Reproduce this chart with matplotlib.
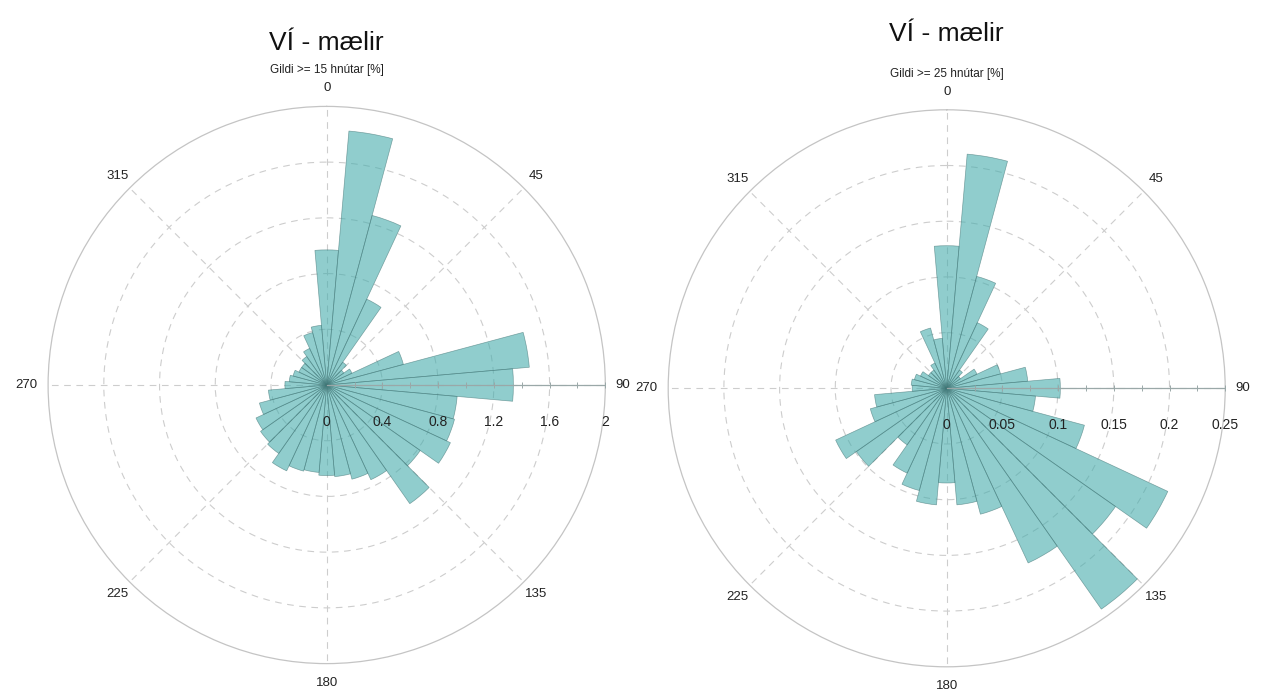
import numpy as np
import matplotlib
matplotlib.use('Agg')
import matplotlib.pyplot as plt
from matplotlib.transforms import offset_copy

# ---- data ----
directions = np.arange(0, 360, 10)  # bin centres, degrees (compass)

left_values = [0.97, 1.83, 1.26, 0.68, 0.20, 0.15, 0.20, 0.57, 1.46, 1.34,
               0.94, 0.95, 0.98, 0.82, 1.04, 0.75, 0.70, 0.66, 0.65, 0.63,
               0.64, 0.68, 0.60, 0.58, 0.56, 0.50, 0.42, 0.30, 0.27, 0.25,
               0.22, 0.22, 0.25, 0.29, 0.39, 0.43]

right_values = [0.128, 0.211, 0.104, 0.065, 0.020, 0.015, 0.030, 0.050, 0.073, 0.102,
                0.080, 0.128, 0.219, 0.185, 0.242, 0.173, 0.117, 0.105, 0.085, 0.105,
                0.095, 0.084, 0.062, 0.099, 0.110, 0.071, 0.065, 0.031, 0.032, 0.030,
                0.026, 0.020, 0.020, 0.025, 0.056, 0.045]

theta_ticks = [0, 45, 90, 135, 180, 225, 270, 315]
left_rticks = [0, 0.4, 0.8, 1.2, 1.6, 2]
left_rlabels = ['0', '0.4', '0.8', '1.2', '1.6', '2']
right_rticks = [0, 0.05, 0.1, 0.15, 0.2, 0.25]
right_rlabels = ['0', '0.05', '0.1', '0.15', '0.2', '0.25']
titles = ['VÍ - mælir', 'VÍ - mælir']
subtitles = ['Gildi >= 15 hnútar [%]', 'Gildi >= 25 hnútar [%]']

plt.rcParams['font.family'] = ['Liberation Sans', 'DejaVu Sans']

W, H = 1264, 695
fig = plt.figure(figsize=(W / 100, H / 100), dpi=100)

FACE = (0.28, 0.68, 0.68)
EDGE = (0.25, 0.45, 0.45)
GRID = '#cdcdcd'
AXLINE = '#9aa8a8'
TXT = '#222222'


def polar_panel(cx, cy, R, values, rticks, rlabels, title, subtitle, title_y, sub_y):
    rect = [(cx - R) / W, (H - cy - R) / H, 2 * R / W, 2 * R / H]
    ax = fig.add_axes(rect, projection='polar')
    ax.set_theta_zero_location('N')
    ax.set_theta_direction(-1)
    rmax = rticks[-1]
    ax.set_ylim(0, rmax)
    ax.set_axisbelow(True)

    ax.bar(np.deg2rad(directions), values, width=np.deg2rad(10), bottom=0,
           color=FACE, alpha=0.6, edgecolor=EDGE, linewidth=0.5, zorder=2)

    ax.set_xticks(np.deg2rad(theta_ticks))
    ax.set_xticklabels([])
    ax.set_yticks(rticks[1:-1])
    ax.set_yticklabels([])
    ax.grid(True, linestyle=(0, (6, 5)), color=GRID, linewidth=0.8)
    ax.spines['polar'].set_color('#c4c4c4')
    ax.spines['polar'].set_linewidth(0.9)

    # angle labels placed just outside the outer circle
    for t in theta_ticks:
        s, c = np.sin(np.deg2rad(t)), np.cos(np.deg2rad(t))
        if abs(s) > 0.9:          # east / west
            gap = 10 if s > 0 else 11
            ha = 'left' if s > 0 else 'right'
            dx, dy, va = gap * np.sign(s), 0, 'center'
        elif abs(c) > 0.9:        # north / south
            dist = 18 if c > 0 else 19
            dx, dy, ha, va = 0, dist * np.sign(c), 'center', 'center'
        else:                     # diagonals
            dist = 17
            dx, dy, ha, va = dist * s, dist * c, 'center', 'center'
        tr = offset_copy(ax.transData, fig=fig, x=dx, y=dy, units='dots')
        ax.text(np.deg2rad(t), rmax, str(t), transform=tr, ha=ha, va=va,
                fontsize=9.5, color=TXT, clip_on=False)

    # solid r-axis line along 90 degrees
    ax.plot([np.pi / 2, np.pi / 2], [0, rmax], color=AXLINE, lw=0.9, zorder=3)
    rt = np.array(rticks, dtype=float)
    marks = np.concatenate([rt[1:], (rt[:-1] + rt[1:]) / 2])
    ax.plot(np.full(len(marks), np.pi / 2), marks, ls='none', marker='|',
            ms=5, mew=0.7, color=AXLINE, zorder=3, clip_on=False)

    # r tick labels below the axis line
    tr = offset_copy(ax.transData, fig=fig, y=-37, units='dots')
    for r, lab in zip(rticks, rlabels):
        ax.text(np.pi / 2, r, lab, transform=tr, ha='center', va='center',
                fontsize=10, color=TXT, clip_on=False)

    fig.text(cx / W, 1 - title_y / H, title, ha='center', va='center',
             fontsize=19, color='#111111')
    fig.text(cx / W, 1 - sub_y / H, subtitle, ha='center', va='center',
             fontsize=8.5, color=TXT)
    return ax


polar_panel(326.7, 385.0, 278.6, left_values, left_rticks, left_rlabels,
            titles[0], subtitles[0], 43, 70)
polar_panel(946.7, 388.3, 278.5, right_values, right_rticks, right_rlabels,
            titles[1], subtitles[1], 34, 74)

fig.savefig('out.png', dpi=100)
